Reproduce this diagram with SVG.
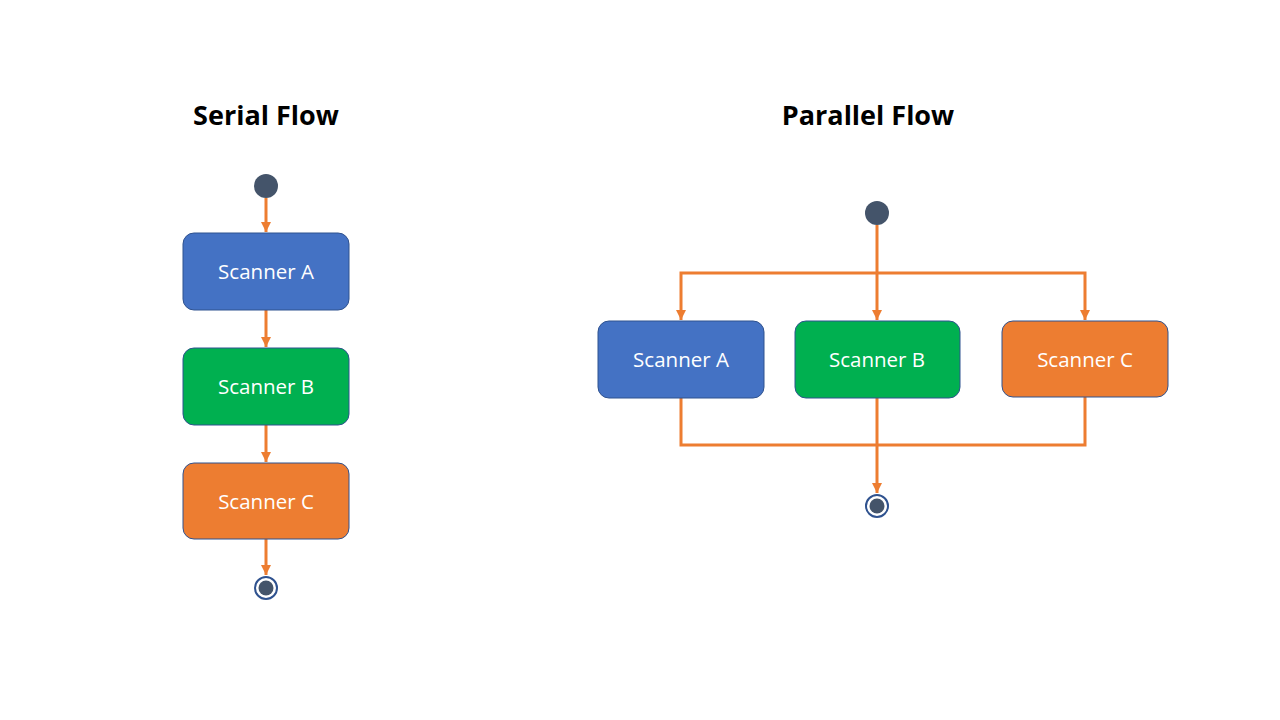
<svg xmlns="http://www.w3.org/2000/svg" width="1280" height="720" viewBox="0 0 1280 720">
<style>
.title{font-family:"Open Sans","Liberation Sans",sans-serif;font-weight:bold;font-size:27px;fill:#000;text-anchor:middle}
.lbl{font-family:"Open Sans","Liberation Sans",sans-serif;font-size:20.5px;fill:#fff;text-anchor:middle;dominant-baseline:central}
.box{stroke:#2F528F;stroke-width:1}
.conn{fill:none;stroke:#ED7D31;stroke-width:3}
.start{fill:#44546A}
</style>
<defs>
<marker id="ah" viewBox="0 0 10 10" refX="10" refY="5" markerWidth="3.5" markerHeight="3.5" orient="auto" markerUnits="strokeWidth">
<path d="M0,0 L10,5 L0,10 z" fill="#ED7D31"/>
</marker>
</defs>
<rect width="1280" height="720" fill="#fff"/>
<text class="title" x="266" y="125">Serial Flow</text>
<text class="title" x="868" y="125">Parallel Flow</text>

<g id="connectors">
<path class="conn" d="M266,198 V232" marker-end="url(#ah)"/>
<path class="conn" d="M266,310 V347" marker-end="url(#ah)"/>
<path class="conn" d="M266,425 V462" marker-end="url(#ah)"/>
<path class="conn" d="M266,539 V575" marker-end="url(#ah)"/>
<path class="conn" d="M877,225 V320" marker-end="url(#ah)"/>
<path class="conn" d="M877,273 H681 V320" marker-end="url(#ah)"/>
<path class="conn" d="M877,273 H1085 V320" marker-end="url(#ah)"/>
<path class="conn" d="M681,398 V445 H1085 V397"/>
<path class="conn" d="M877,398 V493" marker-end="url(#ah)"/>
</g>

<g id="s-start"><circle class="start" cx="266" cy="186" r="12"/></g>
<g id="s-a"><rect class="box" x="183" y="233" width="166" height="77" rx="11" fill="#4472C4"/><text class="lbl" x="266" y="271">Scanner A</text></g>
<g id="s-b"><rect class="box" x="183" y="348" width="166" height="77" rx="11" fill="#00B050"/><text class="lbl" x="266" y="386">Scanner B</text></g>
<g id="s-c"><rect class="box" x="183" y="463" width="166" height="76" rx="11" fill="#ED7D31"/><text class="lbl" x="266" y="500.5">Scanner C</text></g>
<g id="s-end"><circle cx="266" cy="588" r="11" fill="#fff" stroke="#2F528F" stroke-width="2"/><circle class="start" cx="266" cy="588" r="7.5"/></g>

<g id="p-start"><circle class="start" cx="877" cy="213" r="12"/></g>
<g id="p-a"><rect class="box" x="598" y="321" width="166" height="77" rx="11" fill="#4472C4"/><text class="lbl" x="681" y="359">Scanner A</text></g>
<g id="p-b"><rect class="box" x="795" y="321" width="165" height="77" rx="11" fill="#00B050"/><text class="lbl" x="877" y="359">Scanner B</text></g>
<g id="p-c"><rect class="box" x="1002" y="321" width="166" height="76" rx="11" fill="#ED7D31"/><text class="lbl" x="1085" y="358.5">Scanner C</text></g>
<g id="p-end"><circle cx="877" cy="506" r="11" fill="#fff" stroke="#2F528F" stroke-width="2"/><circle class="start" cx="877" cy="506" r="7.5"/></g>
</svg>
